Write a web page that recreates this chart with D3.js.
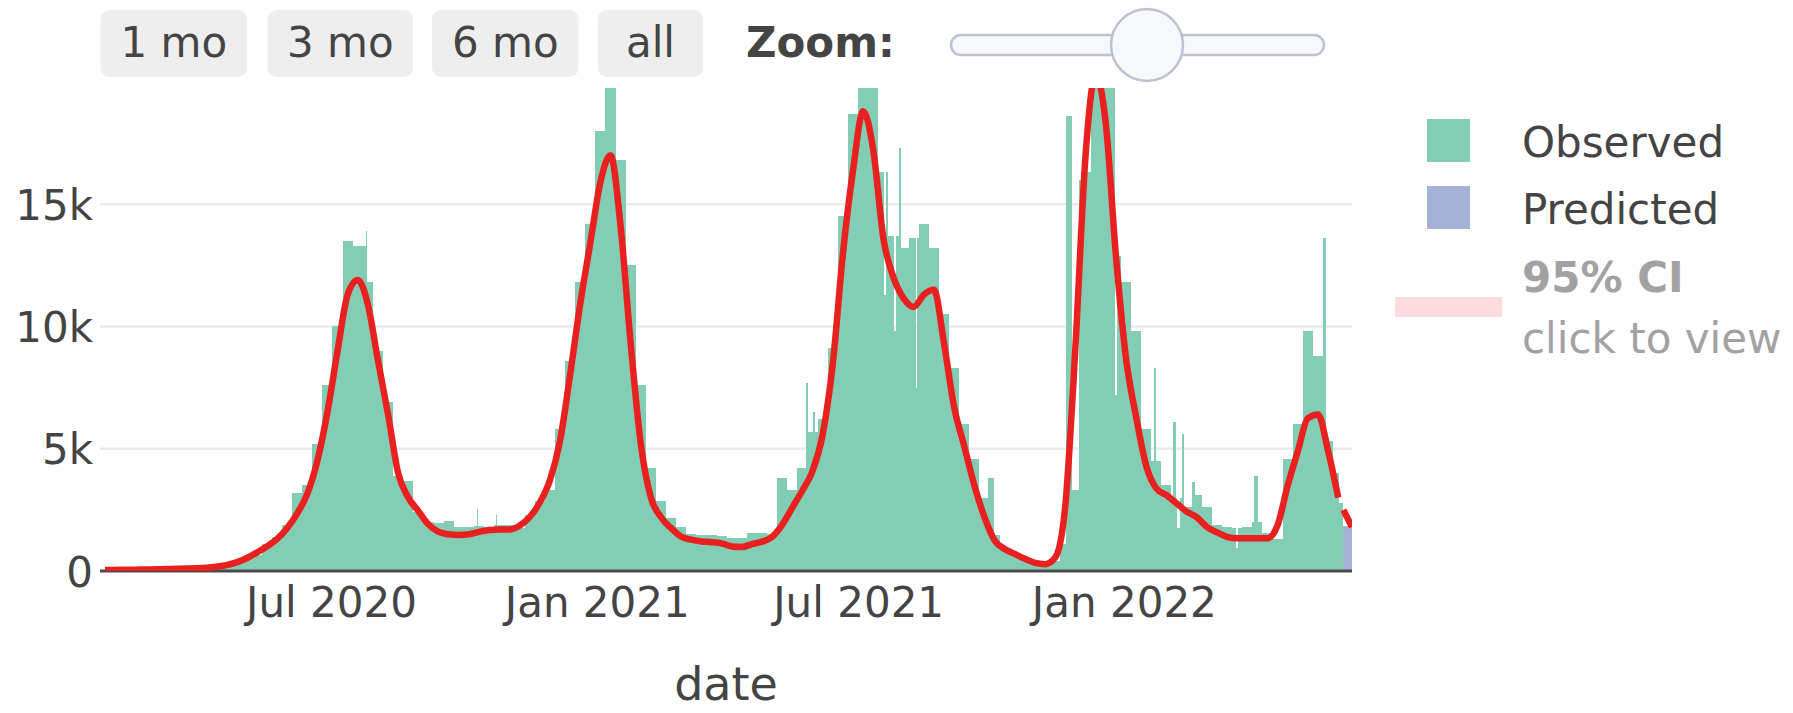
<!DOCTYPE html>
<html>
<head>
<meta charset="utf-8">
<script src="https://cdn.jsdelivr.net/npm/d3@7"></script>
<style>
  html, body { margin: 0; padding: 0; background: #fff; }
  svg { display: block; font-family: "DejaVu Sans", Verdana, sans-serif; }
</style>
</head>
<body>
<div id="chart"></div>
<script>
"use strict";

// ---- data ----
// weekly counts, week 0 starts on 2020-01-23
const firstDay = "2020-01-23";
const observedWeekly = [
  30, 40, 40, 50, 60, 70, 80, 90, 150, 220,
  150, 180, 250, 320, 500, 650, 1100, 1400, 1900, 3200,
  3500, 5200, 7600, 10000, 13500, 13300, 11800, 9000, 6900, 3900,
  3700, 2400, 2000, 1950, 2050, 1800, 1800, 1850, 1800, 1880,
  1880, 1750, 2300, 2850, 3300, 5800, 8600, 11800, 14200, 18000,
  21000, 16800, 12500, 7600, 4200, 2850, 2150, 1800, 1500, 1470,
  1470, 1450, 1350, 1350, 1540, 1540, 1500, 3800, 3300, 4200,
  5700, 6200, 9100, 14500, 18700, 21000, 20000, 16300, 13700, 13200,
  13600, 14200, 13200, 10500, 8300, 6000, 4600, 3000, 1470, 860,
  650, 450, 250, 180, 400, 1100, 3300, 16300, 21000, 21000,
  12900, 11800, 9800, 5800, 4500, 3500, 3000, 2600, 3100, 2600,
  1880, 1800, 1750, 1800, 2000, 1550, 1300, 4600, 6000, 9800,
  8800, 5300, 4000
];

// single days that stand out from their week (spikes and dips)
const observedDays = [
  ["2020-07-23", 13300], ["2020-07-24", 13300], ["2020-07-25", 13900],
  ["2020-10-10", 2550], ["2020-10-23", 2300],
  ["2021-05-26", 7700], ["2021-05-31", 6500],
  ["2021-07-19", 11300], ["2021-07-26", 9800],
  ["2021-07-29", 17300], ["2021-07-30", 17300], ["2021-08-10", 7500],
  ["2021-09-29", 3800], ["2021-09-30", 3800], ["2021-10-01", 3800], ["2021-10-02", 3800],
  ["2021-11-22", 18600], ["2021-11-23", 18600], ["2021-11-24", 18600], ["2021-11-25", 18600],
  ["2021-12-01", 16000],
  ["2021-12-23", 21000], ["2021-12-24", 21000], ["2021-12-25", 21000], ["2021-12-26", 7200],
  ["2022-01-22", 8300],
  ["2022-02-04", 6100], ["2022-02-05", 6100], ["2022-02-07", 1750], ["2022-02-08", 1750],
  ["2022-02-10", 5600], ["2022-02-11", 5600], ["2022-02-17", 3650], ["2022-02-18", 3650],
  ["2022-03-20", 930],
  ["2022-04-01", 3900], ["2022-04-02", 3900], ["2022-04-03", 3900],
  ["2022-05-19", 13600], ["2022-05-20", 13600],
  ["2022-05-30", 2800], ["2022-05-31", 2800], ["2022-06-01", 2800]
];

// predicted daily counts after the last observed day
const predictedStart = "2022-06-02";
const predictedDaily = [1850, 1850, 1850, 1850, 1850, 1850];

// fitted curve, one value per week (week centre)
const fitWeekly = [
  40, 45, 50, 55, 60, 70, 80, 90, 100, 110,
  130, 170, 240, 350, 520, 750, 1000, 1300, 1750, 2350,
  3150, 4500, 6500, 9000, 11300, 11900, 10900, 8600, 6400, 4000,
  3000, 2450, 1900, 1600, 1500, 1470, 1500, 1600, 1680, 1700,
  1700, 1850, 2200, 2800, 3700, 5300, 8000, 10900, 13400, 15900,
  17000, 14100, 9300, 5200, 3000, 2200, 1750, 1400, 1280, 1210,
  1180, 1130, 1000, 980, 1100, 1200, 1400, 1900, 2600, 3300,
  4100, 5600, 8500, 13000, 16400, 18800, 17200, 13600, 12000, 11150,
  10800, 11300, 11500, 9300, 6700, 5100, 3500, 2200, 1250, 900,
  700, 500, 330, 280, 550, 2700, 9200, 17000, 20300, 18300,
  12900, 8700, 6300, 4300, 3380, 3100, 2770, 2430, 2200, 1800,
  1580, 1400, 1340, 1340, 1340, 1340, 1880, 3500, 4900, 6250,
  6400, 4900, 3000
];
// predicted part of the curve
const predictedFitDates = ["2022-06-02", "2022-06-08"];
const predictedFitValues = [2500, 1800];

const yTicks = [0, 5000, 10000, 15000];
const xTicks = ["2020-07-01", "2021-01-01", "2021-07-01", "2022-01-01"];
const buttonLabels = ["1 mo", "3 mo", "6 mo", "all"];

// ---- setup ----
const W = 1793, H = 713;
const plot = {left: 100, right: 1352, top: 88, bottom: 571};
const obsColor = "#84cdb5";
const predColor = "#a4b3d5";
const fitColor = "#e8201f";
const textColor = "#444";

const parse = d3.utcParse("%Y-%m-%d");
const DAY = 864e5;
const t0 = parse(firstDay);
const dayOf = s => Math.round((parse(s) - t0) / DAY);
const dateOf = d => new Date(+t0 + d * DAY);

const x = d3.scaleUtc()
  .domain([t0, parse("2022-06-08")])
  .range([plot.left, plot.right]);
const y = d3.scaleLinear()
  .domain([0, 19750])
  .range([plot.bottom, plot.top]);

const svg = d3.select("#chart").append("svg")
  .attr("width", W).attr("height", H);

svg.append("defs").append("clipPath").attr("id", "plotclip")
  .append("rect")
  .attr("x", plot.left).attr("y", plot.top)
  .attr("width", plot.right - plot.left)
  .attr("height", plot.bottom - plot.top);

// gridlines
svg.append("g")
  .selectAll("line")
  .data(yTicks.filter(d => d > 0))
  .enter().append("line")
  .attr("x1", plot.left).attr("x2", plot.right)
  .attr("y1", d => y(d)).attr("y2", d => y(d))
  .attr("stroke", "#ebebeb").attr("stroke-width", 2.5);

// daily series: weekly value, then the single-day readings on top
const daily = [];
for (let i = 0; i < observedWeekly.length * 7; i++) {
  daily.push(observedWeekly[Math.floor(i / 7)]);
}
observedDays.forEach(function(d) { daily[dayOf(d[0])] = d[1]; });

// merge equal neighbouring days into one bar
function runs(values, startDay) {
  const out = [];
  values.forEach(function(v, i) {
    const last = out[out.length - 1];
    if (last && last.value === v) last.end = startDay + i + 1;
    else out.push({start: startDay + i, end: startDay + i + 1, value: v});
  });
  return out;
}

const bars = svg.append("g")
  .attr("clip-path", "url(#plotclip)")
  .attr("shape-rendering", "crispEdges");

bars.selectAll("rect.obs")
  .data(runs(daily, 0))
  .enter().append("rect")
  .attr("class", "obs")
  .attr("x", d => x(dateOf(d.start)))
  .attr("width", d => x(dateOf(d.end)) - x(dateOf(d.start)))
  .attr("y", d => y(d.value))
  .attr("height", d => y(0) - y(d.value))
  .attr("fill", obsColor);

bars.selectAll("rect.pred")
  .data(runs(predictedDaily, dayOf(predictedStart)))
  .enter().append("rect")
  .attr("class", "pred")
  .attr("x", d => x(dateOf(d.start)))
  .attr("width", d => x(dateOf(d.end)) - x(dateOf(d.start)))
  .attr("y", d => y(d.value))
  .attr("height", d => y(0) - y(d.value))
  .attr("fill", predColor);

// x axis line
svg.append("line")
  .attr("x1", plot.left).attr("x2", plot.right)
  .attr("y1", plot.bottom).attr("y2", plot.bottom)
  .attr("stroke", "#4a4a4a").attr("stroke-width", 3);

// fitted curve
const line = d3.line()
  .x(d => x(d[0])).y(d => y(d[1]))
  .curve(d3.curveMonotoneX);

const lines = svg.append("g").attr("clip-path", "url(#plotclip)");
lines.append("path")
  .datum(fitWeekly.map((v, w) => [dateOf(w * 7 + 3.5), v]))
  .attr("d", line)
  .attr("fill", "none")
  .attr("stroke", fitColor)
  .attr("stroke-width", 6.5)
  .attr("stroke-linejoin", "round");
lines.append("path")
  .datum(predictedFitDates.map((s, i) => [parse(s), predictedFitValues[i]]))
  .attr("d", line)
  .attr("fill", "none")
  .attr("stroke", fitColor)
  .attr("stroke-width", 6.5);

// axes
const yAxis = svg.append("g")
  .attr("transform", "translate(" + plot.left + ",0)")
  .call(d3.axisLeft(y).tickValues(yTicks).tickFormat(d3.format("~s")).tickSize(0).tickPadding(7));
const xAxis = svg.append("g")
  .attr("transform", "translate(0," + plot.bottom + ")")
  .call(d3.axisBottom(x).tickValues(xTicks.map(parse)).tickFormat(d3.utcFormat("%b %Y")).tickSize(0).tickPadding(16));
[yAxis, xAxis].forEach(function(a) {
  a.select(".domain").remove();
  a.selectAll("text")
    .attr("fill", textColor)
    .style("font-size", "42px")
    .style("font-family", "'DejaVu Sans', Verdana, sans-serif");
});
yAxis.selectAll("text").attr("dy", "0.36em");

svg.append("text")
  .attr("x", (plot.left + plot.right) / 2).attr("y", 700)
  .attr("text-anchor", "middle")
  .attr("fill", textColor)
  .style("font-size", "46px")
  .text("date");

// range buttons
const btnX = [100.5, 267.5, 432, 598];
const btnW = [146.5, 145.5, 146.5, 105];
const btn = svg.append("g").selectAll("g")
  .data(buttonLabels)
  .enter().append("g");
btn.append("rect")
  .attr("x", (d, i) => btnX[i]).attr("y", 10)
  .attr("width", (d, i) => btnW[i]).attr("height", 67)
  .attr("rx", 9)
  .attr("fill", "#eeeeee");
btn.append("text")
  .attr("x", (d, i) => btnX[i] + btnW[i] / 2).attr("y", 57)
  .attr("text-anchor", "middle")
  .attr("fill", textColor)
  .style("font-size", "42px")
  .text(d => d);

svg.append("text")
  .attr("x", 746).attr("y", 57)
  .attr("fill", textColor)
  .style("font-size", "42px").style("font-weight", "bold")
  .text("Zoom:");

// slider
svg.append("rect")
  .attr("x", 951).attr("y", 35).attr("width", 373).attr("height", 20).attr("rx", 10)
  .attr("fill", "#f6f8fb").attr("stroke", "#b9c3d4").attr("stroke-width", 2.5);
svg.append("circle")
  .attr("cx", 1147).attr("cy", 45).attr("r", 36)
  .attr("fill", "#f6f8fb").attr("stroke", "#b9c3d4").attr("stroke-width", 2.5);

// legend
const legend = svg.append("g").style("font-size", "42px");
[["Observed", obsColor, 119, 157], ["Predicted", predColor, 186, 224]].forEach(function(it) {
  legend.append("rect")
    .attr("x", 1427).attr("y", it[2]).attr("width", 43).attr("height", 43)
    .attr("fill", it[1]);
  legend.append("text")
    .attr("x", 1522).attr("y", it[3])
    .attr("fill", textColor)
    .text(it[0]);
});
legend.append("rect")
  .attr("x", 1395).attr("y", 297).attr("width", 107).attr("height", 20)
  .attr("fill", "#fddadd");
legend.append("text")
  .attr("x", 1522).attr("y", 292)
  .attr("fill", "#a2a2a2").style("font-weight", "bold")
  .text("95% CI");
legend.append("text")
  .attr("x", 1522).attr("y", 353)
  .attr("fill", "#a2a2a2")
  .text("click to view");
</script>
</body>
</html>
